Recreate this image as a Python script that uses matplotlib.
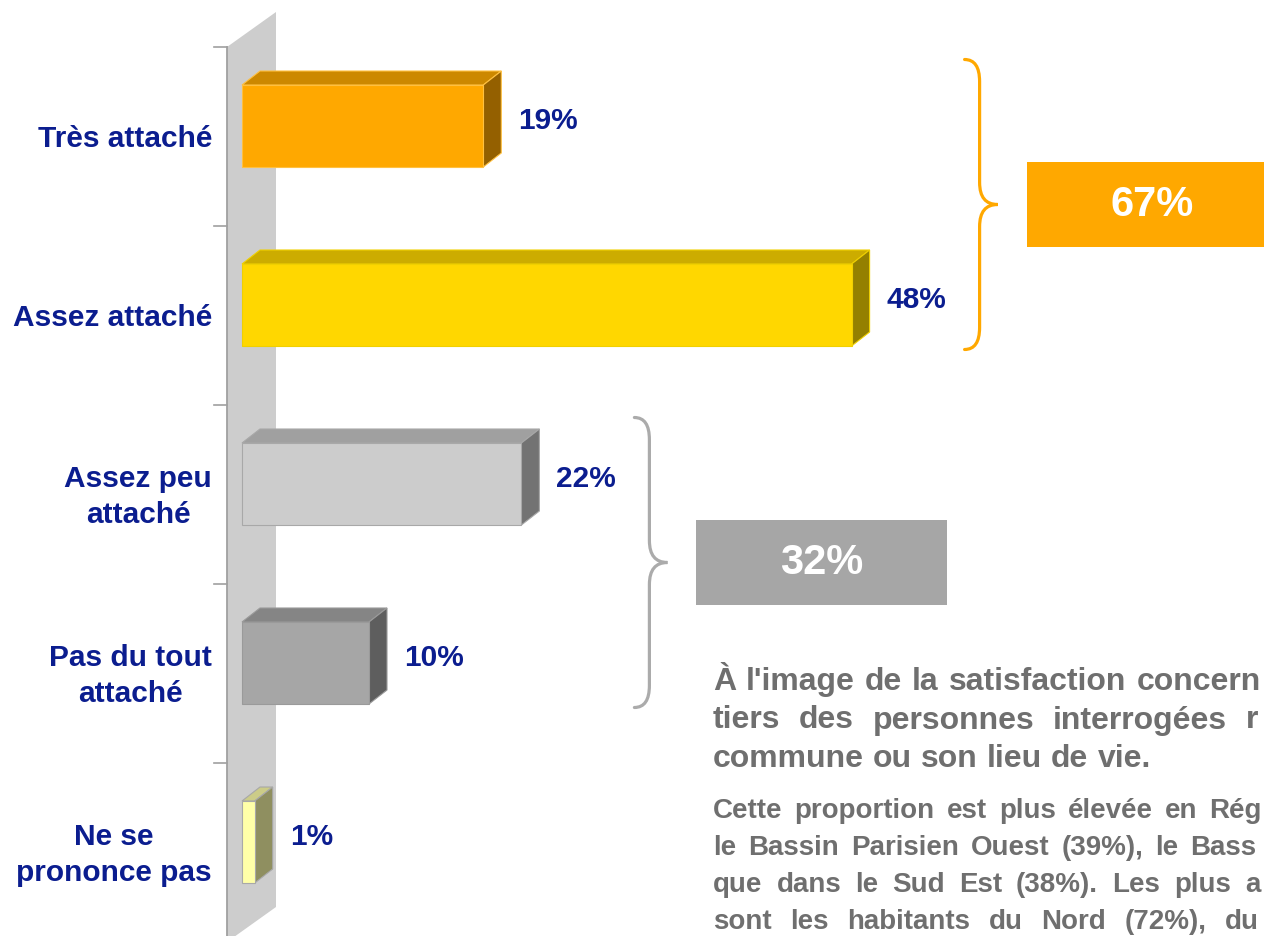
#!/usr/bin/env python3
"""
Attachement a la commune - pseudo 3D horizontal bars with group braces.
Saves: out.png
"""
import matplotlib
matplotlib.use("Agg")
import matplotlib.pyplot as plt
from matplotlib.patches import Polygon, Rectangle, PathPatch
from matplotlib.path import Path as MPath
from matplotlib.transforms import Affine2D

categories = ["Très attaché", "Assez attaché", "Assez peu\nattaché",
              "Pas du tout\nattaché", "Ne se\nprononce pas"]
values = [19, 48, 22, 10, 1]
groups = [[0, 1], [2, 3]]

front_colors = ["#FFA800", "#FFD700", "#CCCCCC", "#A6A6A6", "#FFFFA8"]
top_colors = ["#CC8800", "#CCAC00", "#A0A0A0", "#858585", "#CCCC88"]
side_colors = ["#946000", "#948000", "#737373", "#5E5E5E", "#8F8F60"]
edge_colors = ["#FFC040", "#F0D000", "#A8A8A8", "#9A9A9A", "#A8A8A8"]
group_colors = ["#FFA800", "#A6A6A6"]
brace_colors = ["#FFA800", "#ABABAB"]

# the slide text runs past the right edge; only what is visible is kept
para1 = ["À l'image de la satisfaction concern",
         "tiers des personnes interrogées r",
         "commune ou son lieu de vie."]
para2 = ["Cette proportion est plus élevée en Rég",
         "le Bassin Parisien Ouest (39%), le Bass",
         "que dans le Sud Est (38%). Les plus a",
         "sont les habitants du Nord (72%), du"]

NAVY = "#0B1D8F"
GREY_TXT = "#6F6F6F"
FONT = "Liberation Sans"

W, H = 1264, 936
X0 = 242       # px of 0 %
PPX = 12.7     # px per percent
Y0 = 136.5     # px of first category centre
PITCH = 179    # px per category

fig = plt.figure(figsize=(W / 100, H / 100), dpi=100)
ax = fig.add_axes([0, 0, 1, 1])
ax.set_xlim(-X0 / PPX, (W - X0) / PPX)
ax.set_ylim((H - Y0) / PITCH, -Y0 / PITCH)
ax.axis("off")


def hx(px):
    return px / PPX


def vy(px):
    return px / PITCH


n = len(values)

# back wall + axis line + ticks
wall = Polygon([(hx(-15), -0.5), (hx(34), -0.5 - vy(35)),
                (hx(34), n - 0.5 - vy(35)), (hx(-15), n - 0.5)],
               closed=True, fc="#CDCDCD", ec="none", zorder=1)
ax.add_patch(wall)
ax.plot([hx(-15), hx(-15)], [-0.5, n - 0.5], color="#A0A0A0", lw=1.3, zorder=2)
for b in range(n + 1):
    ax.plot([hx(-28), hx(-15)], [b - 0.5, b - 0.5], color="#A0A0A0", lw=1.2, zorder=2)

# bars
BAR_H = vy(82)
SHIFT = vy(-10.5)
DX, DY = hx(18), vy(-14)
bar_box = []
for i, v in enumerate(values):
    yc = i + SHIFT
    yt, yb = yc - BAR_H / 2, yc + BAR_H / 2
    bar_box.append((yt + DY, yb))
    top = [(0, yt), (v, yt), (v + DX, yt + DY), (DX, yt + DY)]
    side = [(v, yt), (v + DX, yt + DY), (v + DX, yb + DY), (v, yb)]
    ax.add_patch(Polygon(top, closed=True, fc=top_colors[i], ec=edge_colors[i], lw=0.8, zorder=3))
    ax.add_patch(Polygon(side, closed=True, fc=side_colors[i], ec=edge_colors[i], lw=0.8, zorder=3))
    ax.add_patch(Rectangle((0, yt), v, BAR_H, fc=front_colors[i], ec=edge_colors[i], lw=0.8, zorder=4))
    ax.text(v + DX + hx(17), yc + vy(-5), f"{v}%", ha="left", va="center",
            fontsize=21.5, fontweight="bold", color=NAVY, family=FONT)
    ax.text(hx(-30), i + vy(2.5), categories[i], ha="right", va="center", multialignment="center",
            fontsize=21.5, fontweight="bold", color=NAVY, family=FONT, linespacing=1.38)

# braces and totals
for g, idx in enumerate(groups):
    ym = (bar_box[idx[0]][0] + bar_box[idx[-1]][1]) / 2 - vy(4)
    ytop, ybot = ym - vy(145), ym + vy(145)
    x0 = max(values[k] for k in idx) + DX + hx(95)
    x1, x2 = x0 + hx(15), x0 + hx(33)
    r = vy(22)
    verts = [(x0, ytop), (x1, ytop), (x1, ytop + r), (x1, ym - r),
             (x1, ym), (x2, ym), (x1, ym), (x1, ym + r),
             (x1, ybot - r), (x1, ybot), (x0, ybot)]
    codes = [MPath.MOVETO, MPath.CURVE3, MPath.CURVE3, MPath.LINETO,
             MPath.CURVE3, MPath.CURVE3, MPath.CURVE3, MPath.CURVE3,
             MPath.LINETO, MPath.CURVE3, MPath.CURVE3]
    ax.add_patch(PathPatch(MPath(verts, codes), fc="none", ec=brace_colors[g],
                           lw=2.3, capstyle="round", zorder=3))
    bx = x2 + hx(29)
    ax.add_patch(Rectangle((bx, ym - vy(42.5)), hx(251), vy(85),
                           fc=group_colors[g], ec="none", zorder=3))
    total = sum(values[k] for k in idx)
    ax.text(bx + hx(125.5), ym, f"{total}%", ha="center", va="center",
            fontsize=30, fontweight="bold", color="white", family=FONT, zorder=5)

# commentary: justified lines, trimmed at the right edge like the slide
pix = Affine2D().scale(1, -1).translate(0, H)
renderer = fig.canvas.get_renderer()


def write_line(text, x, y, size, gap):
    for word in text.split():
        while word:
            t = fig.text(x, y, word, transform=pix, ha="left", va="baseline", fontsize=size,
                         fontweight="bold", color=GREY_TXT, family=FONT)
            w = t.get_window_extent(renderer).width
            if x + w <= W - 1:
                break
            t.remove()
            word = word[:-1]
        if not word:
            return
        x += w + gap


for k, (line, gap) in enumerate(zip(para1, [10, 18.5, 9])):
    write_line(line, 713, 690 + 38.5 * k, 23, gap)
for k, (line, gap) in enumerate(zip(para2, [12, 12, 14, 18.5])):
    write_line(line, 713, 818 + 37 * k, 20, gap)

fig.savefig("out.png", dpi=100)
